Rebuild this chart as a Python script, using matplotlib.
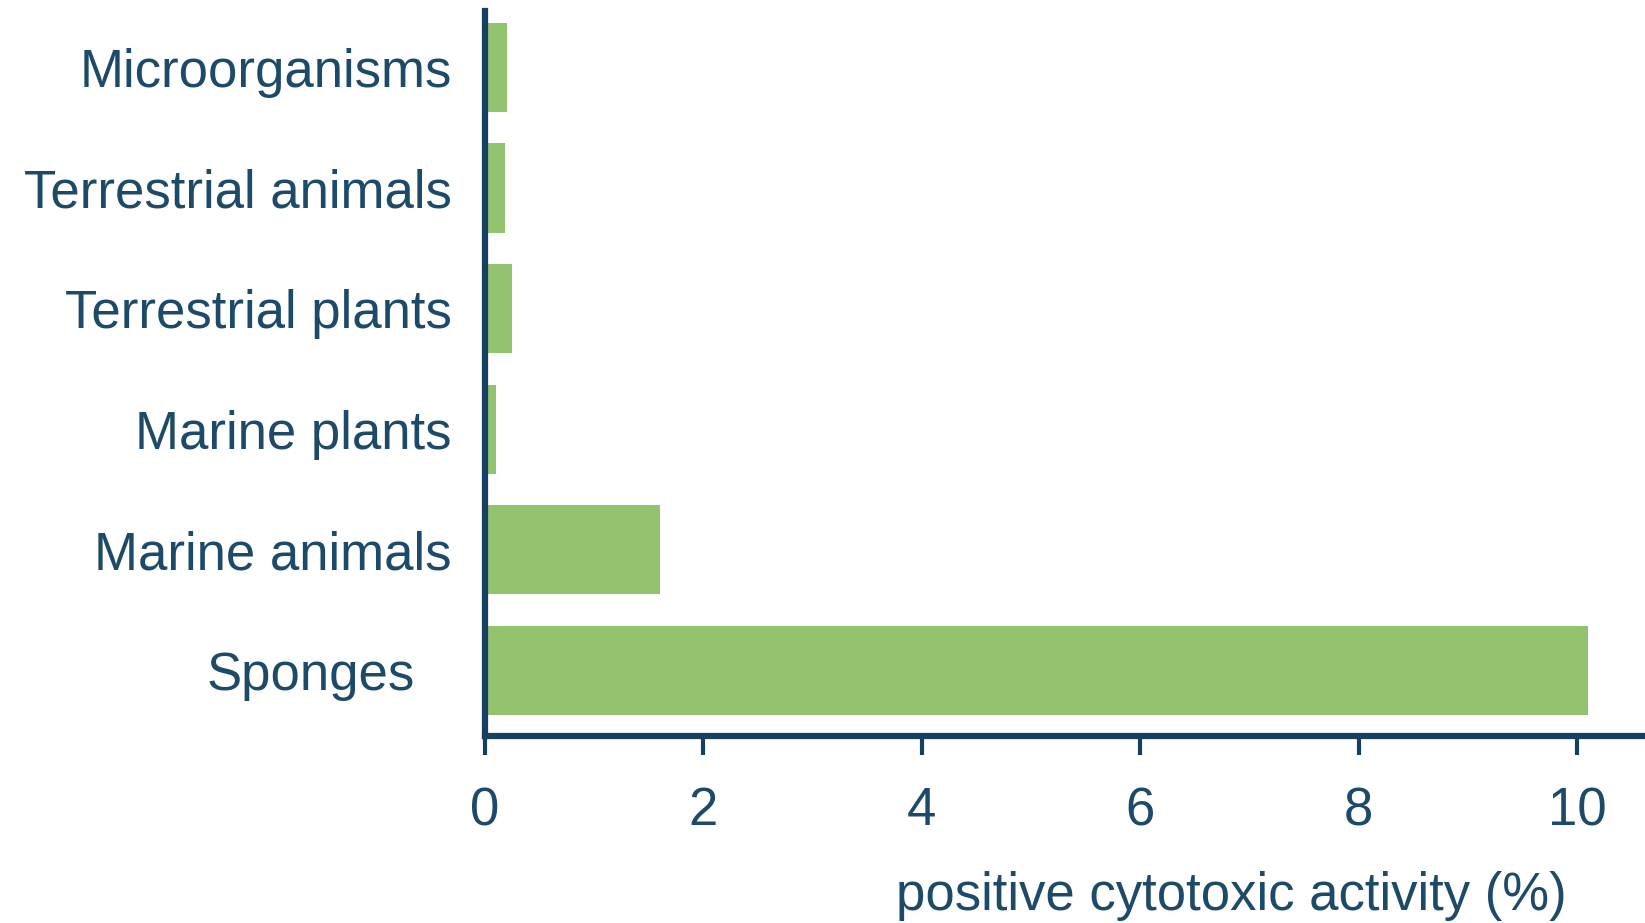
import matplotlib.pyplot as plt
from matplotlib.transforms import ScaledTranslation

categories = ['Sponges', 'Marine animals', 'Marine plants', 'Terrestrial plants',
              'Terrestrial animals', 'Microorganisms']
values = [10.1, 1.6, 0.1, 0.25, 0.18, 0.2]
xticks = [0, 2, 4, 6, 8, 10]

text_color = '#1d4a68'
axis_color = '#16405f'
bar_color = '#93c36f'

plt.rcParams['font.family'] = ['Liberation Sans', 'DejaVu Sans']

fig = plt.figure(figsize=(16.45, 9.23), dpi=100)
ax = fig.add_axes([0.2948, 0.2026, 0.7052, 0.786])

ax.barh(range(len(categories)), values, height=0.74, color=bar_color)

ax.set_xlim(0, 10.62)
ax.set_ylim(-0.543, 5.47)
ax.set_xticks(xticks)
ax.set_xticklabels([str(t) for t in xticks])
ax.set_yticks(range(len(categories)))
ax.set_yticklabels(categories)

for side in ['top', 'right']:
    ax.spines[side].set_visible(False)
for side in ['left', 'bottom']:
    ax.spines[side].set_color(axis_color)
    ax.spines[side].set_linewidth(4.5)

ax.tick_params(axis='x', direction='out', length=14, width=3, color=axis_color,
               labelsize=38, labelcolor=text_color, pad=22)
ax.tick_params(axis='y', length=0, labelsize=38, labelcolor=text_color, pad=24)

# the Sponges label sits a bit further left in the original
lab = ax.get_yticklabels()[0]
lab.set_transform(lab.get_transform() + ScaledTranslation(-0.37, 0, fig.dpi_scale_trans))

ax.set_xlabel('positive cytotoxic activity (%)', fontsize=38, color=text_color)
ax.xaxis.set_label_coords(0.643, -0.186)

fig.savefig('out.png', dpi=100)
